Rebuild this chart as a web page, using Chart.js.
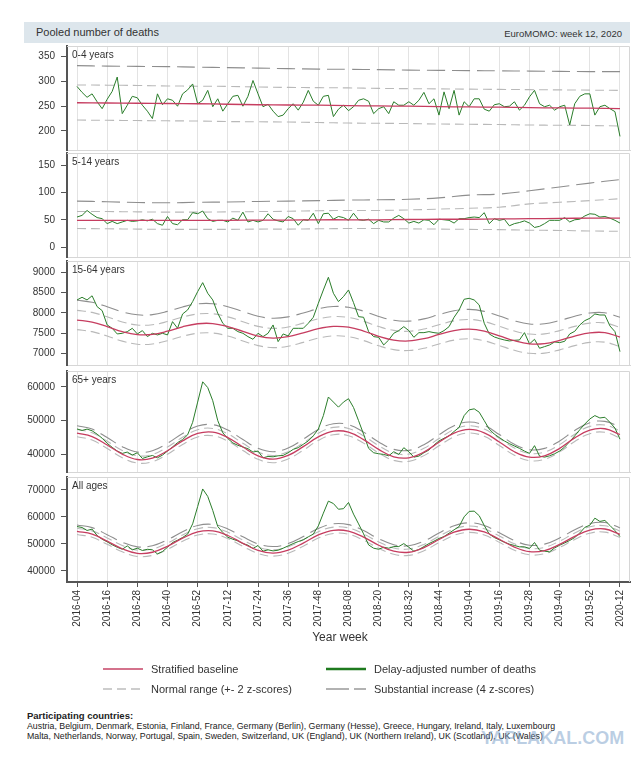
<!DOCTYPE html>
<html>
<head>
<meta charset="utf-8">
<title>Pooled number of deaths</title>
<script src="https://cdn.jsdelivr.net/npm/chart.js@4.4.1/dist/chart.umd.min.js"></script>
<style>
  body { margin: 0; background: #fff; font-family: 'Liberation Sans', Arial, sans-serif; color: #333; }
  #page { position: relative; width: 640px; height: 768px; overflow: hidden; }
  canvas { position: absolute; left: 0; }
  .head { position: absolute; left: 24px; top: 22px; width: 606px; height: 21px; background: #dde6ec; }
  .head .t { position: absolute; left: 12px; top: 4px; font-size: 11px; color: #333; }
  .head .r { position: absolute; right: 8px; top: 6px; font-size: 9.5px; color: #333; }
  .xtitle { position: absolute; left: 290px; top: 630px; width: 100px; text-align: center; font-size: 12px; color: #333; }
  .lg { position: absolute; display: flex; align-items: center; height: 16px; font-size: 11px; color: #333; white-space: nowrap; }
  .lg svg { margin-right: 8px; }
  .ct { position: absolute; left: 27px; top: 711px; font-size: 8.8px; line-height: 10px; color: #222; white-space: nowrap; }
  .ct b { font-size: 9.5px; }
  .wm { position: absolute; left: 481px; top: 728px; font: bold 18px 'Liberation Sans', Arial, sans-serif; color: rgba(120, 158, 200, 0.5); }
</style>
</head>
<body>
<div id="page">
  <div class="head"><span class="t">Pooled number of deaths</span><span class="r">EuroMOMO: week 12, 2020</span></div>

  <canvas id="p1" width="640" height="108" style="top:44px"></canvas>
  <canvas id="p2" width="640" height="108" style="top:151px"></canvas>
  <canvas id="p3" width="640" height="108" style="top:259px"></canvas>
  <canvas id="p4" width="640" height="105" style="top:369px"></canvas>
  <canvas id="p5" width="640" height="159" style="top:475px"></canvas>

  <div class="xtitle">Year week</div>

  <div class="lg" style="left:103px;top:661px"><svg width="40" height="6"><line x1="0" y1="3" x2="40" y2="3" stroke="#d4728c" stroke-width="2"/></svg>Stratified baseline</div>
  <div class="lg" style="left:326px;top:661px"><svg width="40" height="6"><line x1="0" y1="3" x2="40" y2="3" stroke="#1e7a1e" stroke-width="2.5"/></svg>Delay-adjusted number of deaths</div>
  <div class="lg" style="left:103px;top:681px"><svg width="40" height="6"><line x1="0" y1="3" x2="40" y2="3" stroke="#bdbdbd" stroke-width="1.5" stroke-dasharray="9 5"/></svg>Normal range (+- 2 z-scores)</div>
  <div class="lg" style="left:326px;top:681px"><svg width="40" height="6"><line x1="0" y1="3" x2="40" y2="3" stroke="#999" stroke-width="1.5" stroke-dasharray="23 5"/></svg>Substantial increase (4 z-scores)</div>

  <div class="ct"><b>Participating countries:</b><br>
    Austria, Belgium, Denmark, Estonia, Finland, France, Germany (Berlin), Germany (Hesse), Greece, Hungary, Ireland, Italy, Luxembourg<br>
    Malta, Netherlands, Norway, Portugal, Spain, Sweden, Switzerland, UK (England), UK (Northern Ireland), UK (Scotland), UK (Wales)</div>
  <div class="wm">YAPLAKAL.COM</div>
</div>

<script>
Chart.defaults.font.family = "'Liberation Sans', Arial, sans-serif";
Chart.defaults.color = '#333';

// x axis: one tick every 12 weeks, week 0 = 2016-04
var weekLabels = ['2016-04', '2016-16', '2016-28', '2016-40', '2016-52', '2017-12', '2017-24', '2017-36', '2017-48',
                  '2018-08', '2018-20', '2018-32', '2018-44', '2019-04', '2019-16', '2019-28', '2019-40', '2019-52', '2020-12'];
var tickWeeks = weekLabels.map(function (l, i) { return i * 12; });

// deaths are read every 2 weeks, bands every 12 (panels 1-2) or 6 weeks (panels 3-5)
var greenStep = 2;

// 0-4 years
var deaths04 = [290, 278, 268, 275, 259, 245, 264, 280, 309, 235, 252, 270, 267, 252, 240, 225, 275, 253, 265, 262,
  250, 275, 283, 295, 255, 262, 282, 249, 265, 240, 255, 270, 272, 250, 270, 302, 275, 249, 254, 240,
  229, 232, 245, 255, 242, 258, 282, 260, 252, 270, 272, 229, 244, 252, 241,
  249, 262, 265, 260, 235, 245, 249, 235, 259, 252, 252, 259, 252, 262, 278, 255, 265, 232, 279, 245,
  282, 232, 259, 249, 265, 265, 244, 240, 253, 255, 249, 250, 259, 242, 252, 269, 282, 255, 249, 252,
  242, 249, 252, 212, 255, 270, 275, 275, 232, 249, 252, 245, 239, 189];
var base04 = [257, 256.5, 256, 255.5, 255, 254, 253, 252.5, 252, 251, 250.5, 250, 249, 248.5, 248, 247, 246.5, 246, 245];
var low04 = [222, 221.5, 221, 220.5, 220, 219, 218.5, 218, 217, 216, 215.5, 215, 214, 213.5, 213, 212, 211.5, 211, 210];
var up04 = [293, 292.5, 292, 291, 290.5, 290, 289, 288, 287.5, 287, 286, 285.5, 285, 284.5, 284, 283.5, 283, 282.5, 282];
var subst04 = [332, 331, 330.5, 330, 329, 328, 327, 326, 325, 324.5, 324, 323, 322.5, 322, 321.5, 321, 320.5, 320, 320];

// 5-14 years
var deaths514 = [55, 58, 67, 60, 54, 52, 43, 47, 43, 46, 49, 47, 48, 50, 48, 51, 43, 40, 56, 43,
  41, 50, 50, 63, 61, 66, 52, 47, 49, 49, 46, 53, 49, 64, 46, 49, 46, 49, 61, 51,
  48, 46, 56, 52, 40, 50, 49, 62, 43, 61,
  62, 51, 56, 54, 49, 62, 50, 49, 51, 43, 49, 46, 46, 53, 58, 52, 44, 47, 44, 50,
  49, 41, 51, 50, 49, 44, 52, 52, 54, 55, 54, 63, 43, 52, 49, 51, 39, 43, 45, 48,
  44, 36, 38, 43, 49, 49, 49, 54, 46, 50, 51, 57, 61, 60, 55, 56, 53, 49, 44];
var base514 = [49, 49, 49, 49, 49, 49, 49.5, 49.5, 50, 50, 50, 50.5, 51, 51, 51.5, 52, 52.5, 53, 53];
var low514 = [34, 33.5, 33, 32.5, 32.5, 32.5, 33, 33, 33.5, 34, 34, 33.5, 33, 32.5, 32, 31, 30.5, 29.5, 29];
var up514 = [65, 65, 64.5, 64, 64, 64.5, 65, 65.5, 66.5, 67, 67, 68, 69.5, 71, 73, 79, 82, 85, 88.5];
var subst514 = [84, 83, 81.5, 81, 82, 82.5, 83.5, 84, 85, 86, 86.5, 87.5, 90, 95, 97, 103, 110, 117, 123.5];

// 15-64 years
var deaths1564 = [8317, 8383, 8317, 8420, 8152, 8054, 7700, 7617, 7478, 7494, 7535, 7617, 7478, 7560, 7412, 7494, 7453, 7494, 7453, 7782,
  7617, 7971, 8070, 8276, 8523, 8745, 8482, 8317, 7988, 7741, 7617, 7617, 7535, 7494, 7412, 7346, 7494, 7412, 7494, 7700,
  7288, 7478, 7428, 7617, 7617, 7617, 7741, 7889, 8235, 8564, 8877, 8482, 8276, 8400, 8564,
  8251, 7905, 7889, 7535, 7412, 7395, 7206, 7329, 7494, 7560, 7658, 7560, 7395, 7510, 7510, 7535, 7510, 7494, 7560, 7658,
  7889, 8070, 8334, 8358, 8317, 8193, 7741, 7478, 7403, 7362, 7329, 7305, 7321, 7329, 7510, 7231, 7346, 7124, 7165, 7206,
  7280, 7264, 7296, 7478, 7543, 7700, 7807, 7864, 7971, 7946, 7946, 7675, 7535, 7041];
var base1564 = [7820, 7770, 7660, 7535, 7460, 7465, 7545, 7655, 7730, 7735, 7660, 7540, 7425, 7375, 7410, 7505, 7610, 7665, 7645,
  7550, 7420, 7325, 7305, 7360, 7465, 7560, 7595, 7545, 7430, 7310, 7235, 7240, 7320, 7425, 7505, 7510, 7400];
var low1564 = [7585, 7535, 7425, 7300, 7225, 7230, 7310, 7420, 7495, 7500, 7425, 7305, 7190, 7140, 7175, 7270, 7375, 7430, 7410,
  7315, 7185, 7090, 7070, 7125, 7230, 7325, 7360, 7310, 7195, 7075, 7000, 7005, 7085, 7190, 7270, 7275, 7165];
var up1564 = [8060, 8010, 7900, 7775, 7700, 7705, 7785, 7895, 7970, 7975, 7900, 7780, 7665, 7615, 7650, 7745, 7850, 7905, 7885,
  7790, 7660, 7565, 7545, 7600, 7705, 7800, 7835, 7785, 7670, 7550, 7475, 7480, 7560, 7665, 7745, 7750, 7640];
var subst1564 = [8310, 8260, 8150, 8025, 7950, 7955, 8035, 8145, 8220, 8225, 8150, 8030, 7915, 7865, 7900, 7995, 8100, 8155, 8135,
  8040, 7910, 7815, 7795, 7850, 7955, 8050, 8085, 8035, 7920, 7800, 7725, 7730, 7810, 7915, 7995, 8000, 7890];

// 65+ years
var deaths65 = [47550, 47100, 47500, 47000, 46000, 44800, 43300, 42100, 41000, 40300, 40700, 39800, 40500, 38800, 39300, 39700, 39000, 39800, 41000, 42200,
  43500, 44400, 45800, 49500, 55500, 61500, 59800, 55900, 50000, 46400, 44700, 43400, 42700, 42200, 41700, 40700, 41000, 39000, 39400, 39300,
  39600, 39700, 40500, 41500, 42000, 43000, 44000, 45500, 47500, 51500, 57000, 55500, 54000, 55500, 56500,
  53900, 50000, 46000, 41800, 40500, 40200, 40000, 39600, 40800, 40000, 42000, 40800, 39200, 39500, 40500, 41300, 42800, 44000, 44800, 45500,
  46800, 48000, 51500, 53200, 53500, 52500, 50000, 47500, 46000, 45000, 44000, 43200, 42500, 41800, 41000, 40300, 42600, 39500, 39200, 39600,
  40200, 41000, 42200, 43800, 45500, 47300, 49000, 50500, 51500, 50800, 51000, 49500, 47800, 44500];
var base65 = [46300, 45300, 42800, 40100, 38500, 38900, 41100, 44000, 46200, 46600, 45000, 42200, 39600, 38600, 39700, 42300, 45200, 46900, 46600,
  44400, 41500, 39300, 39000, 40700, 43600, 46300, 47400, 46400, 43700, 40800, 39200, 39600, 41800, 44900, 47200, 47600, 45900];
var low65 = [45250, 44250, 41750, 39050, 37450, 37850, 40050, 42950, 45150, 45550, 43950, 41150, 38550, 37550, 38650, 41250, 44150, 45850, 45550,
  43350, 40450, 38250, 37950, 39650, 42550, 45250, 46350, 45350, 42650, 39750, 38150, 38550, 40750, 43850, 46150, 46550, 44850];
var up65 = [47400, 46400, 43900, 41200, 39600, 40000, 42200, 45100, 47300, 47700, 46100, 43300, 40700, 39700, 40800, 43400, 46300, 48000, 47700,
  45500, 42600, 40400, 40100, 41800, 44700, 47400, 48500, 47500, 44800, 41900, 40300, 40700, 42900, 46000, 48300, 48700, 47000];
var subst65 = [48500, 47500, 45000, 42300, 40700, 41100, 43300, 46200, 48400, 48800, 47200, 44400, 41800, 40800, 41900, 44500, 47400, 49100, 48800,
  46600, 43700, 41500, 41200, 42900, 45800, 48500, 49600, 48600, 45900, 43000, 41400, 41800, 44000, 47100, 49400, 49800, 48100];

// All ages
var deathsAll = [56400, 56050, 54950, 55450, 53100, 51700, 50750, 49650, 48750, 48000, 49250, 47800, 48400, 47550, 48000, 47800, 46300, 47150, 48750, 50500,
  51350, 52350, 53600, 57400, 63800, 70300, 67550, 62350, 56400, 54200, 52450, 51700, 51100, 50100, 49500, 48300, 49400, 47300, 47800, 47400,
  47650, 48400, 49250, 50100, 50850, 51500, 52600, 53600, 56650, 61350, 65800, 64900, 62800, 63000, 65300,
  61000, 57400, 53700, 49600, 48400, 48000, 48750, 48400, 49000, 49000, 50100, 48750, 47300, 47900, 49000, 50100, 51000, 52000, 52700, 53950,
  55200, 56400, 60000, 62000, 62100, 60400, 56800, 53600, 52350, 51500, 50600, 49900, 49400, 48900, 48900, 48300, 50500, 47650, 47300, 47050,
  48500, 49500, 50350, 51250, 52350, 54000, 56100, 56900, 59500, 58300, 58650, 56800, 54900, 52700];
var baseAll = [54600, 53600, 51000, 48200, 46500, 46900, 49100, 52100, 54400, 54800, 53100, 50200, 47600, 46600, 47700, 50300, 53300, 55000, 54700,
  52500, 49500, 47300, 46900, 48600, 51600, 54300, 55400, 54400, 51700, 48800, 47100, 47500, 49800, 52800, 55100, 55500, 53500];
var lowAll = [53450, 52450, 49850, 47050, 45350, 45750, 47950, 50950, 53250, 53650, 51950, 49050, 46450, 45450, 46550, 49150, 52150, 53850, 53550,
  51350, 48350, 46150, 45750, 47450, 50450, 53150, 54250, 53250, 50550, 47650, 45950, 46350, 48650, 51650, 53950, 54350, 52350];
var upAll = [55800, 54800, 52200, 49400, 47700, 48100, 50300, 53300, 55600, 56000, 54300, 51400, 48800, 47800, 48900, 51500, 54500, 56200, 55900,
  53700, 50700, 48500, 48100, 49800, 52800, 55500, 56600, 55600, 52900, 50000, 48300, 48700, 51000, 54000, 56300, 56700, 54700];
var substAll = [57000, 56000, 53400, 50600, 48900, 49300, 51500, 54500, 56800, 57200, 55500, 52600, 50000, 49000, 50100, 52700, 55700, 57400, 57100,
  54900, 51900, 49700, 49300, 51000, 54000, 56700, 57800, 56800, 54100, 51200, 49500, 49900, 52200, 55200, 57500, 57900, 55900];

function pts(values, step) {
  return values.map(function (v, i) { return { x: i * step, y: v }; });
}

// light frame on top/right of each panel + the panel label
var frame = {
  id: 'frame',
  beforeDatasetsDraw: function (chart) {
    var a = chart.chartArea, c = chart.ctx;
    c.save();
    c.strokeStyle = '#d6d6d6';
    c.lineWidth = 1;
    c.beginPath();
    c.moveTo(a.left, a.top + 0.5);
    c.lineTo(a.right - 0.5, a.top + 0.5);
    c.lineTo(a.right - 0.5, a.bottom);
    c.stroke();
    c.restore();
  },
  afterDraw: function (chart, args, opts) {
    var a = chart.chartArea, c = chart.ctx;
    c.save();
    c.font = "10px 'Liberation Sans', Arial, sans-serif";
    c.fillStyle = '#333';
    c.textBaseline = 'middle';
    c.fillText(opts.text, a.left + 5, a.top + 9);
    c.restore();
  }
};

function panel(id, label, yTicks, yMin, yMax, bandStep, deaths, base, low, up, subst, last) {
  var band = { borderWidth: 1.1, tension: 0.4, pointRadius: 0 };
  return new Chart(document.getElementById(id), {
    type: 'line',
    data: {
      datasets: [
        { label: 'Stratified baseline', data: pts(base, bandStep), borderColor: '#c63d60', borderWidth: 1.3, tension: 0.4, pointRadius: 0 },
        { label: 'Delay-adjusted number of deaths', data: pts(deaths, greenStep), borderColor: '#2a7d2a', borderWidth: 1, tension: 0, pointRadius: 0 },
        Object.assign({ label: 'Normal range (+- 2 z-scores)', data: pts(up, bandStep), borderColor: '#b9b9b9', borderDash: [9, 5] }, band),
        Object.assign({ label: 'Normal range lower', data: pts(low, bandStep), borderColor: '#b9b9b9', borderDash: [9, 5] }, band),
        Object.assign({ label: 'Substantial increase (4 z-scores)', data: pts(subst, bandStep), borderColor: '#8e8e8e', borderDash: [18, 7] }, band)
      ]
    },
    options: {
      responsive: false,
      animation: false,
      devicePixelRatio: 1,
      layout: { padding: { top: 2, right: 10, bottom: last ? 0 : 2, left: 0 } },
      plugins: { legend: { display: false }, tooltip: { enabled: false }, frame: { text: label } },
      scales: {
        x: {
          type: 'linear', min: -3.98, max: 219.98,
          afterBuildTicks: function (s) { s.ticks = tickWeeks.map(function (v) { return { value: v }; }); },
          afterFit: function (s) { s.height = last ? 52 : 0; s.paddingLeft = 0; s.paddingRight = 0; },
          grid: { color: '#e3e3e3', lineWidth: 1, drawTicks: last, tickLength: 5, tickColor: '#555' },
          border: { color: last ? '#555' : '#d6d6d6', width: last ? 2 : 1 },
          ticks: {
            display: last, autoSkip: false, minRotation: 90, maxRotation: 90, padding: 3,
            font: { size: 10 }, color: '#333',
            callback: function (v, i) { return weekLabels[i]; }
          }
        },
        y: {
          min: yMin, max: yMax,
          afterBuildTicks: function (s) { s.ticks = yTicks.map(function (v) { return { value: v }; }); },
          afterFit: function (s) { s.width = 67; s.paddingTop = 0; s.paddingBottom = 0; },
          grid: { drawOnChartArea: false, tickLength: 6, tickColor: '#555' },
          border: { color: '#555', width: 2 },
          ticks: {
            padding: 6, color: '#333', font: { size: 10 },
            callback: function (v) { return String(v); }
          }
        }
      }
    },
    plugins: [frame]
  });
}

panel('p1', '0-4 years', [200, 250, 300, 350], 161.5, 371.7, 12, deaths04, base04, low04, up04, subst04, false);
panel('p2', '5-14 years', [0, 50, 100, 150], -18, 172, 12, deaths514, base514, low514, up514, subst514, false);
panel('p3', '15-64 years', [7000, 7500, 8000, 8500, 9000], 6711, 9279, 6, deaths1564, base1564, low1564, up1564, subst1564, false);
panel('p4', '65+ years', [40000, 50000, 60000], 34800, 64700, 6, deaths65, base65, low65, up65, subst65, false);
panel('p5', 'All ages', [40000, 50000, 60000, 70000], 35900, 74720, 6, deathsAll, baseAll, lowAll, upAll, substAll, true);
</script>
</body>
</html>
